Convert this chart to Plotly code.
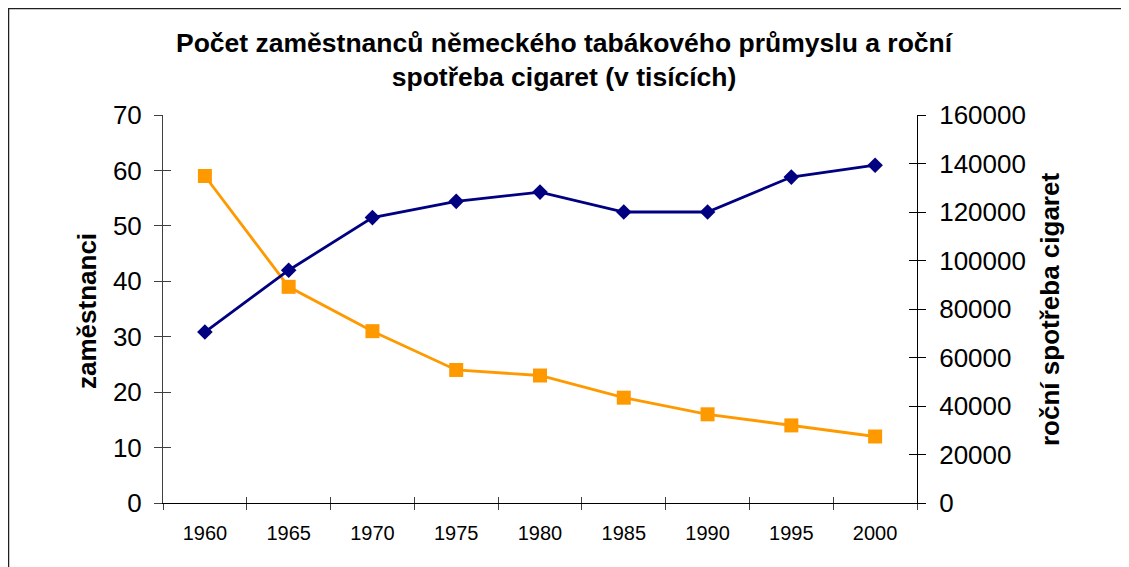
import plotly.graph_objects as go

years = ["1960", "1965", "1970", "1975", "1980", "1985", "1990", "1995", "2000"]
employees = [59, 39, 31, 24, 23, 19, 16, 14, 12]
cigarettes = [70500, 96000, 117700, 124400, 128200, 120000, 120000, 134400, 139300]

title_text = "Počet zaměstnanců německého tabákového průmyslu a roční<br>spotřeba cigaret (v tisících)"
left_title = "zaměstnanci"
right_title = "roční spotřeba cigaret"

FONT = "Arial, Liberation Sans, sans-serif"
OFF = 8  # page body margin
W, H = 1129, 567
# plot area in page pixels: x 163..917, y 115..503
L = 163 - OFF
T = 115 - OFF
R = W + OFF - 917
B = H + OFF - 503
pw, ph = W - L - R, H - T - B

def px_x(p):
    return (p - OFF - L) / pw

def px_y(p):
    return (H - B - (p - OFF)) / ph

fig = go.Figure()

fig.add_trace(go.Scatter(
    x=years, y=cigarettes, xaxis="x", yaxis="y2", mode="lines+markers",
    line=dict(color="#000080", width=2.8),
    marker=dict(symbol="diamond", size=12, color="#000080"),
    showlegend=False, cliponaxis=False,
))
fig.add_trace(go.Scatter(
    x=years, y=employees, xaxis="x", yaxis="y", mode="lines+markers",
    line=dict(color="#FF9900", width=2.8),
    marker=dict(symbol="square", size=14, color="#FF9900"),
    showlegend=False, cliponaxis=False,
))
# empty traces to activate overlay axes (inside half of crossing ticks)
fig.add_trace(go.Scatter(x=[], y=[], xaxis="x2", yaxis="y3", showlegend=False, hoverinfo="skip"))
fig.add_trace(go.Scatter(x=[], y=[], xaxis="x2", yaxis="y4", showlegend=False, hoverinfo="skip"))

tickfont_y = dict(family=FONT, size=26, color="black")
tickfont_x = dict(family=FONT, size=20, color="black")

fig.update_layout(
    width=W, height=H,
    margin=dict(l=L, r=R, t=T, b=B, autoexpand=False),
    paper_bgcolor="white", plot_bgcolor="white",
    xaxis=dict(
        type="category", categoryorder="array", categoryarray=years,
        range=[-0.5, len(years) - 0.5], tickson="boundaries",
        ticks="outside", ticklen=6, tickcolor="#404040", tickwidth=1,
        showline=True, linecolor="black", linewidth=1,
        showgrid=False, zeroline=False, tickfont=tickfont_x,
        ticklabelstandoff=12, anchor="y",
    ),
    xaxis2=dict(
        type="category", categoryorder="array", categoryarray=years,
        range=[-0.5, len(years) - 0.5], tickson="boundaries",
        overlaying="x", side="bottom", anchor="y",
        ticks="inside", ticklen=6, tickcolor="#404040", tickwidth=1,
        showticklabels=False, showline=False, showgrid=False, zeroline=False,
    ),
    yaxis=dict(
        range=[0, 70], tick0=0, dtick=10,
        ticks="outside", ticklen=8, tickcolor="#404040", tickwidth=1,
        showline=True, linecolor="#404040", linewidth=1,
        showgrid=False, zeroline=False, tickfont=tickfont_y,
        ticklabelstandoff=7, anchor="x",
    ),
    yaxis3=dict(
        range=[0, 70], tick0=0, dtick=10, overlaying="y", side="left", anchor="x",
        ticks="inside", ticklen=8, tickcolor="#404040", tickwidth=1,
        showticklabels=False, showline=False, showgrid=False, zeroline=False,
    ),
    yaxis2=dict(
        range=[0, 160000], tick0=0, dtick=20000, overlaying="y", side="right", anchor="x",
        ticks="outside", ticklen=8, tickcolor="black", tickwidth=1,
        showline=True, linecolor="black", linewidth=1,
        showgrid=False, zeroline=False, tickfont=tickfont_y,
        ticklabelstandoff=8, tickformat="d",
    ),
    yaxis4=dict(
        range=[0, 160000], tick0=0, dtick=20000, overlaying="y", side="right", anchor="x",
        ticks="inside", ticklen=8, tickcolor="black", tickwidth=1,
        showticklabels=False, showline=False, showgrid=False, zeroline=False,
    ),
    annotations=[
        dict(text="<b>" + title_text.replace("<br>", "</b><br><b>") + "</b>",
             xref="paper", yref="paper", x=px_x(565), y=px_y(60),
             xanchor="center", yanchor="middle", showarrow=False,
             font=dict(family=FONT, size=26.5, color="black")),
        dict(text="<b>" + left_title + "</b>", textangle=-90,
             xref="paper", yref="paper", x=px_x(87), y=px_y(311),
             xanchor="center", yanchor="middle", showarrow=False,
             font=dict(family=FONT, size=26, color="black")),
        dict(text="<b>" + right_title + "</b>", textangle=-90,
             xref="paper", yref="paper", x=px_x(1050), y=px_y(310),
             xanchor="center", yanchor="middle", showarrow=False,
             font=dict(family=FONT, size=26, color="black")),
    ],
    shapes=[
        dict(type="rect", xref="paper", yref="paper",
             x0=px_x(8.6), x1=px_x(1200), y0=px_y(650), y1=px_y(8.6),
             line=dict(color="#202020", width=1.3), fillcolor="rgba(0,0,0,0)",
             layer="below"),
    ],
)

fig.write_html("out.html")
